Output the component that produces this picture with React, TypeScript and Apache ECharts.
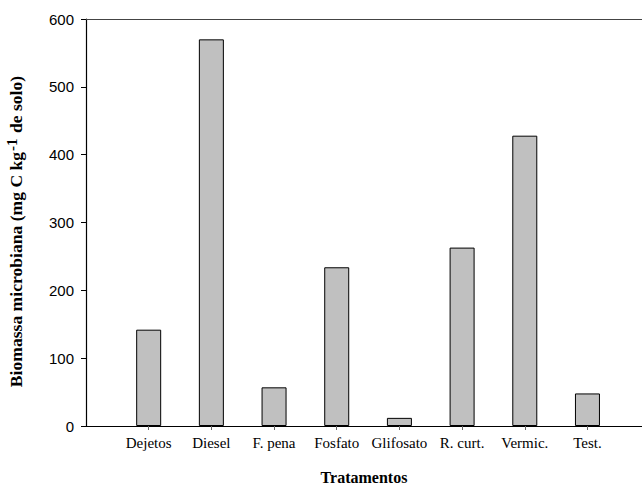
import React, { useEffect, useRef } from "react";
import * as echarts from "echarts";

const categories = ["Dejetos", "Diesel", "F. pena", "Fosfato", "Glifosato", "R. curt.", "Vermic.", "Test."];
const biomass = [142, 570, 57, 234, 12, 263, 428, 48];
const yTicks = [0, 100, 200, 300, 400, 500, 600];

export default function App() {
  const ref = useRef<HTMLDivElement>(null);
  useEffect(() => {
    if (!ref.current) return;
    const chart = echarts.init(ref.current, null, { renderer: "svg" });
    const positions = categories.map((_, i) => i + 1);
    chart.setOption({
      animation: false,
      backgroundColor: "#ffffff",
      grid: { left: 86, right: 0, top: 19, bottom: 59, containLabel: false, outerBoundsMode: "none" },
      xAxis: [
        {
          type: "value",
          position: "bottom",
          min: 0,
          max: 8.87,
          interval: 1,
          splitLine: { show: false },
          axisLine: { show: true, onZero: false, lineStyle: { color: "#000", width: 1.2 } },
          axisTick: { show: true, inside: false, length: 4, customValues: positions, lineStyle: { color: "#666" } },
          axisLabel: {
            customValues: positions,
            margin: 9,
            fontFamily: "Liberation Serif",
            fontSize: 15,
            color: "#000",
            formatter: (v: number) => categories[Math.round(v) - 1] ?? "",
          },
          name: "Tratamentos",
          nameLocation: "middle",
          nameGap: 43,
          nameTextStyle: { fontFamily: "Liberation Serif", fontWeight: "bold", fontSize: 16, color: "#000" },
        },
        {
          type: "value",
          position: "top",
          min: 0,
          max: 8.87,
          splitLine: { show: false },
          axisLine: { show: true, onZero: false, lineStyle: { color: "#444", width: 1.2 } },
          axisTick: { show: false },
          axisLabel: { show: false },
        },
      ],
      yAxis: {
        type: "value",
        min: 0,
        max: 600,
        interval: 100,
        splitLine: { show: false },
        axisLine: { show: true, lineStyle: { color: "#000", width: 1.2 } },
        axisTick: { show: true, length: 5, lineStyle: { color: "#000" } },
        axisLabel: {
          margin: 12,
          fontFamily: "Liberation Sans",
          fontSize: 15,
          color: "#000",
          customValues: yTicks,
        },
        name: "{b|Biomassa microbiana (mg C kg}{s|-1}{b| de solo)}",
        nameLocation: "middle",
        nameRotate: 90,
        nameGap: 58,
        nameTextStyle: {
          padding: [0, 18, 0, 0],
          rich: {
            b: { fontFamily: "Liberation Serif", fontWeight: "bold", fontSize: 17.6, color: "#000" },
            s: { fontFamily: "Liberation Serif", fontWeight: "bold", fontSize: 15, color: "#000", verticalAlign: "top", padding: [0, 1, 9, 1] },
          },
        },
      },
      series: [
        {
          type: "bar",
          xAxisIndex: 0,
          barWidth: 25,
          data: biomass.map((v, i) => [positions[i], v]),
          itemStyle: { color: "#c0c0c0", borderColor: "#000", borderWidth: 1 },
        },
      ],
    });
    return () => chart.dispose();
  }, []);
  return (
    <div
      ref={ref}
      style={{ position: "absolute", left: 0, top: 0, width: 642, height: 485 }}
    />
  );
}
